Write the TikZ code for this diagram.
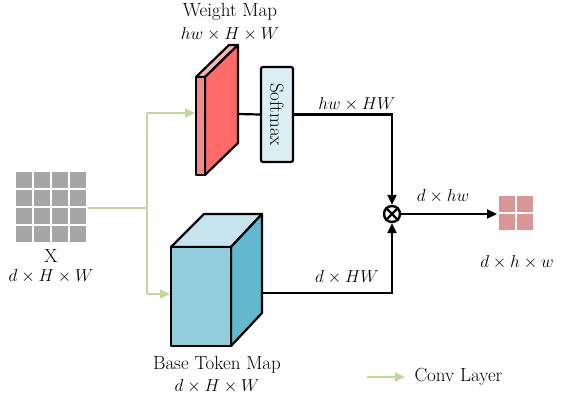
\documentclass[tikz,border=0pt]{standalone}
\usepackage{fontspec}
\usetikzlibrary{arrows.meta,calc}

\definecolor{convgreen}{HTML}{C3D69B}
\definecolor{gridgray}{HTML}{A6A6A6}
\definecolor{mapthin}{HTML}{F48A8A}
\definecolor{mapside}{HTML}{FF6A6A}
\definecolor{maptop}{HTML}{F8B4B4}
\definecolor{softblue}{HTML}{DAEEF3}
\definecolor{cubefront}{HTML}{92CDDC}
\definecolor{cubetop}{HTML}{C5E4EE}
\definecolor{cubeside}{HTML}{63B8CD}
\definecolor{outred}{HTML}{D99694}

\tikzset{
  convline/.style={draw=convgreen,line width=2pt},
  conv/.style={convline,-{Triangle[length=10pt,width=9pt]}},
  flow/.style={line width=2.2pt,-{Triangle[length=10pt,width=9pt]}},
  face/.style={draw,line width=2.2pt,line join=round},
  dimtext/.style={font=\fontsize{17}{20}\selectfont},
}

\begin{document}
\begin{tikzpicture}[x=1pt,y=-1pt,font=\fontsize{19}{22}\selectfont]
\useasboundingbox (0,0) rectangle (566,400);

% input X
\foreach \i in {0,...,3}
  \foreach \j in {0,...,3}
    \fill[gridgray] (16+\i*18,172+\j*18) rectangle ++(16,16);
\node (xname) at (51,256) {X};
\node (xdim) [dimtext] at (51,276) {$d\times H\times W$};

% conv branches
\coordinate (xin) at (88,208);
\coordinate (split) at (147,208);
\coordinate (splittop) at (147,113);
\coordinate (splitbot) at (147,294);
\coordinate (wfront) at (195,113);
\coordinate (cfront) at (170,294);
\draw[convline] (xin) -- (split);
\draw[convline] (splittop) -- (splitbot);
\draw[conv] (splittop) -- (wfront);
\draw[conv] (splitbot) -- (cfront);

% weight map
\draw[face,fill=maptop] (196,77) -- (205,77) -- (238,45) -- (229,45) -- cycle;
\draw[face,fill=mapside] (205,77) -- (238,45) -- (238,143) -- (205,175) -- cycle;
\draw[face,fill=mapthin] (196,77) rectangle (205,175);
\node (wname) at (230,12) {Weight Map};
\node (wdim) [dimtext] at (230,34) {$hw\times H\times W$};
\coordinate (wout) at (238,114);

% softmax
\node (soft) [draw,line width=2.2pt,fill=softblue,rounded corners=2pt,
  minimum width=32pt,minimum height=95pt,inner sep=0pt] at (277,114.5)
  {\rotatebox{-90}{Softmax}};
\draw[line width=2.2pt] (wout) -- (soft.west);

% multiply
\node (mul) [circle,draw,line width=2.4pt,minimum size=16pt,inner sep=0pt] at (392,214) {};
\draw[line width=2.4pt] (mul.north west) -- (mul.south east);
\draw[line width=2.4pt] (mul.north east) -- (mul.south west);
\draw[flow] (soft.east) -| (mul.north);
\node (wtdim) [dimtext] at (357,104) {$hw\times HW$};

% base token map
\draw[face,fill=cubetop] (171,247) -- (204,214) -- (262,214) -- (231,247) -- cycle;
\draw[face,fill=cubeside] (231,247) -- (262,214) -- (262,313) -- (231,346) -- cycle;
\draw[face,fill=cubefront] (171,247) rectangle (231,346);
\node (bname) at (217,365) {Base Token Map};
\node (bdim) [dimtext] at (217,386) {$d\times H\times W$};
\coordinate (cout) at (262,293);
\draw[flow] (cout) -| (mul.south);
\node (btdim) [dimtext] at (347,277) {$d\times HW$};

% output
\coordinate (outtip) at (497,214);
\draw[flow] (mul.east) -- (outtip);
\node (mdim) [dimtext] at (443,196) {$d\times hw$};
\foreach \i in {0,1}
  \foreach \j in {0,1}
    \fill[outred] (499+\i*18,196+\j*18) rectangle ++(16,16);
\node (odim) [dimtext] at (517,262) {$d\times h\times w$};

% legend
\coordinate (legl) at (367,377);
\coordinate (legr) at (405,377);
\draw[conv] (legl) -- (legr);
\node (legtext) [anchor=west] at (411,377) {Conv Layer};
\end{tikzpicture}
\end{document}
